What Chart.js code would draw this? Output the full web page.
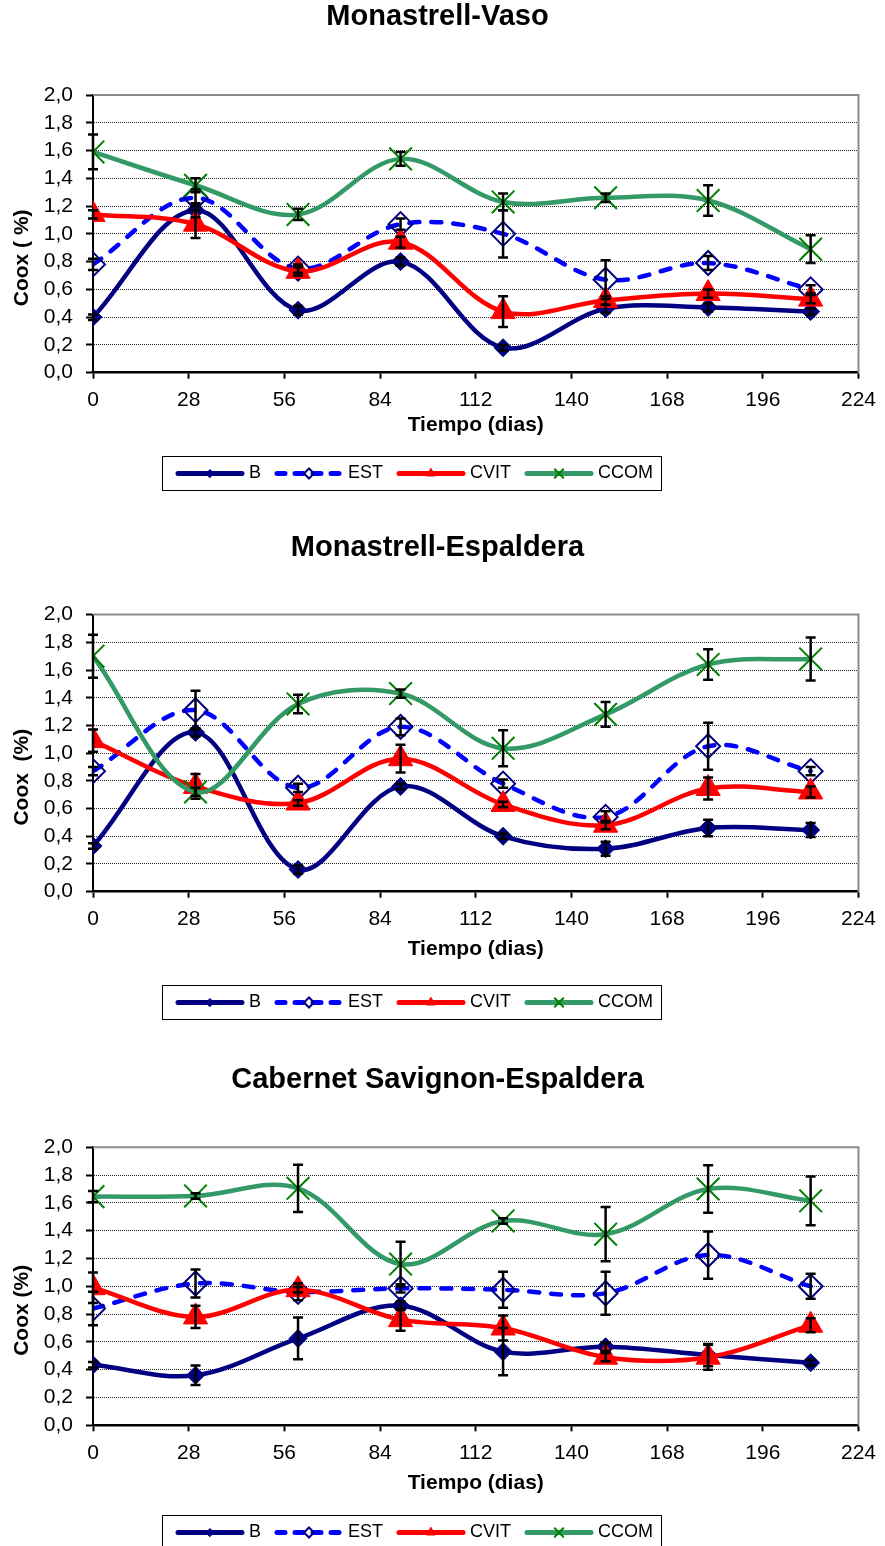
<!DOCTYPE html>
<html>
<head>
<meta charset="utf-8">
<title>Coox</title>
<script src="https://cdn.jsdelivr.net/npm/chart.js@4.4.0/dist/chart.umd.min.js"></script>
<style>
  body { margin: 0; background: #fff; width: 885px; height: 1546px; overflow: hidden; position: relative; }
  canvas { position: absolute; left: 0; }
</style>
</head>
<body>
<canvas id="chartVaso" width="885" height="500" style="top:0px"></canvas>
<canvas id="chartEspaldera" width="885" height="500" style="top:531px"></canvas>
<canvas id="chartCabernet" width="885" height="500" style="top:1063px"></canvas>
<script>
// Dias de muestreo (eje X) y marcas de los ejes
const days = [0, 30, 60, 90, 120, 150, 180, 210];
const xTickValues = [0, 28, 56, 84, 112, 140, 168, 196, 224];
const yTickValues = [0, 0.2, 0.4, 0.6, 0.8, 1.0, 1.2, 1.4, 1.6, 1.8, 2.0];
const seriesNames = ["B", "EST", "CVIT", "CCOM"];

// Monastrell-Vaso
const vasoB = [0.40, 1.17, 0.45, 0.80, 0.18, 0.46, 0.47, 0.44];
const vasoEST = [0.78, 1.26, 0.75, 1.07, 1.00, 0.67, 0.79, 0.60];
const vasoCVIT = [1.14, 1.07, 0.73, 0.94, 0.44, 0.52, 0.57, 0.53];
const vasoCCOM = [1.59, 1.35, 1.14, 1.54, 1.23, 1.26, 1.24, 0.89];
const vasoErrB = [0.02, 0.05, 0.03, 0.03, 0.02, 0.03, 0.03, 0.02];
const vasoErrEST = [0.04, 0.06, 0.03, 0.04, 0.17, 0.14, 0.05, 0.03];
const vasoErrCVIT = [0.03, 0.10, 0.03, 0.04, 0.11, 0.03, 0.03, 0.03];
const vasoErrCCOM = [0.125, 0.05, 0.04, 0.05, 0.06, 0.03, 0.11, 0.10];

// Monastrell-Espaldera
const espB = [0.33, 1.15, 0.16, 0.76, 0.40, 0.31, 0.46, 0.445];
const espEST = [0.87, 1.31, 0.75, 1.19, 0.78, 0.54, 1.05, 0.87];
const espCVIT = [1.09, 0.76, 0.64, 0.96, 0.63, 0.48, 0.745, 0.72];
const espCCOM = [1.70, 0.72, 1.355, 1.43, 1.035, 1.28, 1.64, 1.68];
const espErrB = [0.02, 0.03, 0.03, 0.02, 0.02, 0.05, 0.06, 0.05];
const espErrEST = [0.03, 0.14, 0.03, 0.06, 0.03, 0.04, 0.17, 0.03];
const espErrCVIT = [0.08, 0.09, 0.02, 0.10, 0.02, 0.03, 0.08, 0.04];
const espErrCCOM = [0.155, 0.03, 0.067, 0.03, 0.13, 0.09, 0.11, 0.155];

// Cabernet Savignon-Espaldera
const cabB = [0.435, 0.36, 0.625, 0.86, 0.53, 0.565, 0.505, 0.45];
const cabEST = [0.84, 1.02, 0.96, 0.985, 0.975, 0.95, 1.225, 1.0];
const cabCVIT = [0.99, 0.78, 0.975, 0.76, 0.70, 0.49, 0.49, 0.72];
const cabCCOM = [1.645, 1.65, 1.705, 1.16, 1.47, 1.375, 1.70, 1.615];
const cabErrB = [0.02, 0.07, 0.15, 0.03, 0.17, 0.03, 0.08, 0.02];
const cabErrEST = [0.12, 0.10, 0.06, 0.03, 0.13, 0.155, 0.17, 0.09];
const cabErrCVIT = [0.11, 0.08, 0.02, 0.08, 0.09, 0.03, 0.09, 0.05];
const cabErrCCOM = [0.04, 0.02, 0.17, 0.16, 0.02, 0.195, 0.17, 0.175];

Chart.defaults.font.family = 'Arial, "Liberation Sans", sans-serif';
Chart.defaults.color = "#000";

// Estilo de cada serie (como en Excel)
const seriesStyles = [
  { borderColor: "#000080", borderWidth: 4.5, pointStyle: "rectRot", pointRadius: 9,
    pointBackgroundColor: "#000080", pointBorderColor: "#000080", pointBorderWidth: 1,
    legendRadius: 4, order: 3 },
  { borderColor: "#0000FF", borderWidth: 4.5, borderDash: [10, 12], borderCapStyle: "round",
    pointStyle: "rectRot", pointRadius: 12, pointBackgroundColor: "rgba(255,255,255,0)",
    pointBorderColor: "#000080", pointBorderWidth: 2, legendRadius: 5, order: 2 },
  { borderColor: "#FF0000", borderWidth: 4.5, pointStyle: "triangle", pointRadius: 14,
    pointBackgroundColor: "#FF0000", pointBorderColor: "#FF0000", pointBorderWidth: 1,
    legendRadius: 5, order: 1 },
  { borderColor: "#339966", borderWidth: 4.5, pointStyle: "crossRot", pointRadius: 16,
    pointBackgroundColor: "#008000", pointBorderColor: "#008000", pointBorderWidth: 2,
    legendRadius: 6, order: 0 }
];

function makeDatasets(values, errors) {
  return values.map((vals, i) => Object.assign({
    label: seriesNames[i],
    data: vals.map((v, j) => ({ x: days[j], y: v })),
    errors: errors[i],
    fill: false,
    tension: 0.35
  }, seriesStyles[i]));
}

// Plugin: borde gris del area, barras de error, titulo Y y leyenda con recuadro
const decor = {
  id: "decor",
  beforeDatasetsDraw(chart) {
    const { ctx, chartArea: a } = chart;
    ctx.save();
    ctx.strokeStyle = "#8c8c8c";
    ctx.lineWidth = 2;
    ctx.beginPath();
    ctx.moveTo(a.left, a.top);
    ctx.lineTo(a.right, a.top);
    ctx.lineTo(a.right, a.bottom);
    ctx.stroke();
    ctx.restore();
  },
  afterDatasetsDraw(chart) {
    const { ctx, scales: { x, y } } = chart;
    ctx.save();
    ctx.strokeStyle = "#000";
    ctx.lineWidth = 2.5;
    chart.data.datasets.forEach(ds => {
      ds.data.forEach((p, j) => {
        const e = ds.errors[j];
        const px = x.getPixelForValue(p.x);
        const y1 = y.getPixelForValue(p.y + e);
        const y2 = y.getPixelForValue(p.y - e);
        ctx.beginPath();
        ctx.moveTo(px, y1); ctx.lineTo(px, y2);
        ctx.moveTo(px - 5, y1); ctx.lineTo(px + 5, y1);
        ctx.moveTo(px - 5, y2); ctx.lineTo(px + 5, y2);
        ctx.stroke();
      });
    });
    ctx.restore();
  },
  afterDraw(chart, args, opts) {
    const { ctx, chartArea: a } = chart;
    ctx.save();
    // titulo del eje Y
    ctx.font = 'bold 21px Arial, "Liberation Sans", sans-serif';
    ctx.fillStyle = "#000";
    ctx.textAlign = "center";
    ctx.textBaseline = "middle";
    ctx.translate(22, (a.top + a.bottom) / 2 + 24);
    ctx.rotate(-Math.PI / 2);
    ctx.fillText(opts.yTitle, 0, 0);
    ctx.restore();

    // leyenda
    ctx.save();
    ctx.font = '18px Arial, "Liberation Sans", sans-serif';
    const lineLen = 68, gap = 5, pad = 14, sep = 14, h = 34;
    const widths = chart.data.datasets.map(ds => ctx.measureText(ds.label).width);
    let w = pad + 8 + sep * (widths.length - 1);
    widths.forEach(tw => { w += lineLen + gap + tw; });
    const left = Math.round(opts.legendCenter - w / 2);
    const top = opts.legendTop;
    ctx.strokeStyle = "#000";
    ctx.lineWidth = 1;
    ctx.strokeRect(left + 0.5, top + 0.5, Math.round(w), h);
    const cy = top + h / 2 + 0.5;
    let xx = left + pad;
    chart.data.datasets.forEach((ds, i) => {
      ctx.save();
      ctx.strokeStyle = ds.borderColor;
      ctx.lineWidth = 5;
      ctx.lineCap = "round";
      ctx.setLineDash(ds.borderDash ? [8, 10] : []);
      ctx.beginPath();
      ctx.moveTo(xx + 2, cy);
      ctx.lineTo(xx + lineLen - 2, cy);
      ctx.stroke();
      ctx.setLineDash([]);
      ctx.fillStyle = ds.pointBackgroundColor;
      ctx.strokeStyle = ds.pointBorderColor;
      ctx.lineWidth = ds.pointBorderWidth;
      Chart.helpers.drawPoint(ctx, { pointStyle: ds.pointStyle, radius: ds.legendRadius,
        borderWidth: ds.pointBorderWidth, rotation: 0 }, xx + lineLen / 2, cy);
      ctx.restore();
      ctx.fillStyle = "#000";
      ctx.textAlign = "left";
      ctx.textBaseline = "middle";
      ctx.fillText(ds.label, xx + lineLen + gap, cy);
      xx += lineLen + gap + widths[i] + sep;
    });
    ctx.restore();
  }
};

function buildChart(id, cfg) {
  return new Chart(document.getElementById(id), {
    type: "line",
    data: { datasets: makeDatasets(cfg.values, cfg.errors) },
    options: {
      responsive: false,
      animation: false,
      events: [],
      layout: { padding: { top: 0, left: 12, right: 22, bottom: cfg.padBottom } },
      plugins: {
        legend: { display: false },
        tooltip: { enabled: false },
        title: {
          display: true,
          text: cfg.title,
          color: "#000",
          font: { size: 29, weight: "bold" },
          padding: { top: 0, bottom: cfg.titleGap }
        },
        decor: { yTitle: cfg.yTitle, legendTop: cfg.legendTop, legendCenter: 412 }
      },
      scales: {
        x: {
          type: "linear",
          min: 0,
          max: 224,
          afterBuildTicks: s => { s.ticks = xTickValues.map(v => ({ value: v })); },
          afterFit: s => { s.height = cfg.xAxisHeight; },
          grid: { drawOnChartArea: false, drawTicks: true, tickLength: 6, tickColor: "#000", tickWidth: 2 },
          border: { color: "#000", width: 2.5 },
          ticks: { color: "#000", font: { size: 21 }, padding: 9, maxRotation: 0, autoSkip: false },
          title: { display: true, text: "Tiempo (dias)", color: "#000", font: { size: 21, weight: "bold" }, padding: 0 }
        },
        y: {
          min: 0,
          max: 2,
          afterBuildTicks: s => { s.ticks = yTickValues.map(v => ({ value: v })); },
          afterFit: s => { s.width = 81; },
          grid: { color: "rgba(0,0,0,0.85)", lineWidth: 1, tickLength: 7, tickColor: "#000", tickWidth: 2 },
          border: { color: "#000", width: 2, dash: [1, 1] },
          ticks: { color: "#000", font: { size: 21 }, padding: 13, autoSkip: false,
            callback: v => v.toFixed(1).replace(".", ",") }
        }
      }
    },
    plugins: [decor]
  });
}

buildChart("chartVaso", {
  title: "Monastrell-Vaso",
  yTitle: "Coox ( %)",
  values: [vasoB, vasoEST, vasoCVIT, vasoCCOM],
  errors: [vasoErrB, vasoErrEST, vasoErrCVIT, vasoErrCCOM],
  titleGap: 60.2, xAxisHeight: 65, padBottom: 62.3, legendTop: 456
});

buildChart("chartEspaldera", {
  title: "Monastrell-Espaldera",
  yTitle: "Coox  (%)",
  values: [espB, espEST, espCVIT, espCCOM],
  errors: [espErrB, espErrEST, espErrCVIT, espErrCCOM],
  titleGap: 48.8, xAxisHeight: 70, padBottom: 69.3, legendTop: 454
});

buildChart("chartCabernet", {
  title: "Cabernet Savignon-Espaldera",
  yTitle: "Coox (%)",
  values: [cabB, cabEST, cabCVIT, cabCCOM],
  errors: [cabErrB, cabErrEST, cabErrCVIT, cabErrCCOM],
  titleGap: 49.5, xAxisHeight: 71, padBottom: 66.7, legendTop: 452
});
</script>
</body>
</html>
